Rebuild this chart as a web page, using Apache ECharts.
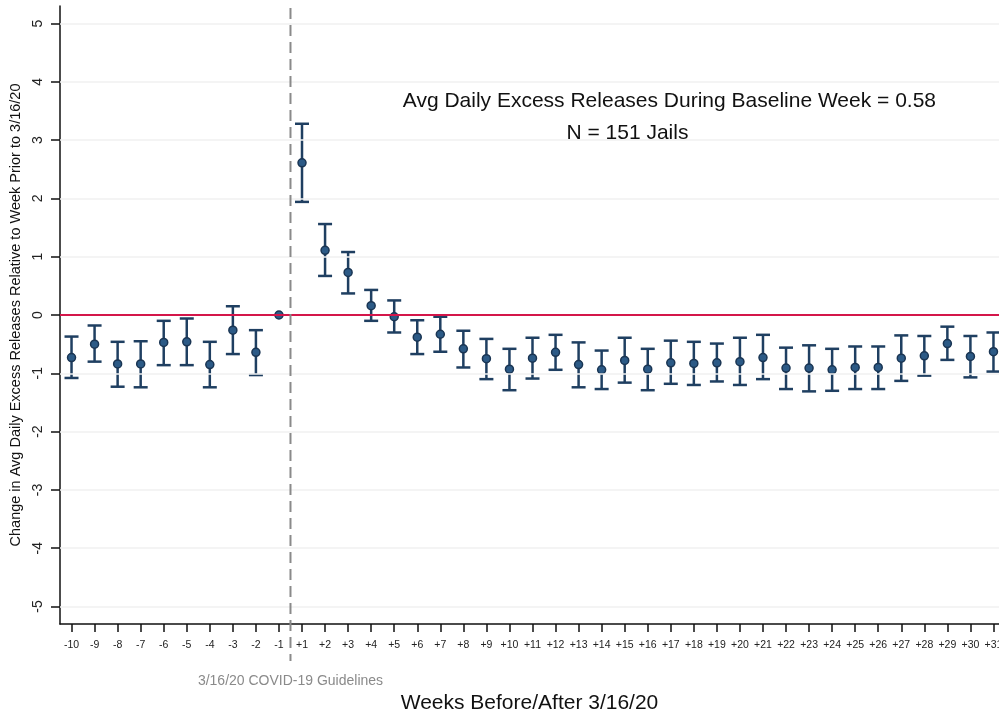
<!DOCTYPE html>
<html lang="en">
<head>
    <meta charset="UTF-8">
    <title>Weekly change in excess releases</title>
    <script src="https://cdn.jsdelivr.net/npm/echarts@6/dist/echarts.min.js"></script>
    <style>
        html, body { margin: 0; padding: 0; width: 100%; height: 100%; overflow: hidden; background: #fff; }
        #chart { width: 100%; height: 100%; }
    </style>
</head>
<body>
    <div id="chart"></div>
    <script>
        // week labels (no week 0; the guideline date falls between -1 and +1)
        const weekLabels = ['-10', '-9', '-8', '-7', '-6', '-5', '-4', '-3', '-2', '-1',
            '+1', '+2', '+3', '+4', '+5', '+6', '+7', '+8', '+9', '+10',
            '+11', '+12', '+13', '+14', '+15', '+16', '+17', '+18', '+19', '+20',
            '+21', '+22', '+23', '+24', '+25', '+26', '+27', '+28', '+29', '+30', '+31'];

        // point estimates
        const estimates = [-0.73, -0.50, -0.84, -0.84, -0.47, -0.46, -0.85, -0.26, -0.64, 0,
            2.61, 1.11, 0.73, 0.16, -0.03, -0.38, -0.33, -0.58, -0.75, -0.93,
            -0.74, -0.64, -0.85, -0.94, -0.78, -0.93, -0.82, -0.83, -0.82, -0.80,
            -0.73, -0.91, -0.91, -0.94, -0.90, -0.90, -0.74, -0.70, -0.49, -0.71, -0.63];

        // 95% CI bounds (week -1 is the reference week, no interval)
        const ciLower = [-1.08, -0.80, -1.23, -1.24, -0.86, -0.86, -1.24, -0.67, -1.03, null,
            1.94, 0.67, 0.37, -0.10, -0.30, -0.67, -0.63, -0.90, -1.10, -1.29,
            -1.09, -0.94, -1.24, -1.27, -1.16, -1.29, -1.18, -1.20, -1.14, -1.20,
            -1.10, -1.27, -1.31, -1.30, -1.27, -1.27, -1.13, -1.04, -0.77, -1.07, -0.97];
        const ciUpper = [-0.37, -0.18, -0.46, -0.45, -0.10, -0.06, -0.46, 0.15, -0.26, null,
            3.28, 1.56, 1.08, 0.43, 0.25, -0.09, -0.03, -0.27, -0.41, -0.58,
            -0.39, -0.34, -0.47, -0.61, -0.39, -0.58, -0.44, -0.46, -0.49, -0.39,
            -0.34, -0.56, -0.52, -0.58, -0.54, -0.54, -0.35, -0.36, -0.20, -0.36, -0.30];

        const yTicks = [-5, -4, -3, -2, -1, 0, 1, 2, 3, 4, 5];
        const guidelinePos = 9.5; // between week -1 and week +1

        const FONT = '"Liberation Sans", Arial, sans-serif';
        const NAVY = '#1f3f61';

        const xIdx = weekLabels.map((_, i) => i);
        const pointData = estimates.map((v, i) => [i, v]);
        const barData = [];
        ciLower.forEach((lo, i) => {
            if (lo !== null) barData.push([i, lo, ciUpper[i]]);
        });

        const chart = echarts.init(document.getElementById('chart'));

        const option = {
            animation: false,
            backgroundColor: '#fff',
            // v6 would otherwise shrink the grid to keep labels inside the canvas
            grid: { left: 60, right: 0, top: 6, bottom: 91, outerBoundsMode: 'none', containLabel: false },
            xAxis: {
                type: 'value',
                min: -0.5,
                max: 40.24,
                name: 'Weeks Before/After 3/16/20',
                nameLocation: 'middle',
                nameGap: 69,
                nameTextStyle: { fontFamily: FONT, fontSize: 21, color: '#111' },
                axisLine: { show: true, onZero: false, lineStyle: { color: '#111', width: 1.5 } },
                axisTick: { show: true, length: 8, customValues: xIdx, lineStyle: { color: '#111', width: 1.5 } },
                axisLabel: {
                    customValues: xIdx,
                    formatter: v => weekLabels[Math.round(v)] || '',
                    fontFamily: FONT, fontSize: 10.5, color: '#222', margin: 16
                },
                splitLine: { show: false }
            },
            yAxis: {
                type: 'value',
                min: -5.3,
                max: 5.3,
                name: 'Change in Avg Daily Excess Releases Relative to Week Prior to 3/16/20',
                nameLocation: 'middle',
                nameGap: 36,
                nameTextStyle: { fontFamily: FONT, fontSize: 14.5, color: '#111' },
                axisLine: { show: true, onZero: false, lineStyle: { color: '#111', width: 1.5 } },
                axisTick: { show: true, length: 9, customValues: yTicks, lineStyle: { color: '#111', width: 1.5 } },
                axisLabel: {
                    customValues: yTicks,
                    rotate: 90,
                    fontFamily: FONT, fontSize: 14, color: '#222', margin: 15
                },
                splitLine: { show: false }
            },
            series: [
                {
                    // faint horizontal grid + red zero line
                    type: 'line',
                    data: [],
                    silent: true,
                    markLine: {
                        silent: true,
                        symbol: 'none',
                        label: { show: false },
                        data: yTicks.filter(t => t !== 0).map(t => ({
                            yAxis: t, lineStyle: { color: '#f1f1f1', width: 1.5, type: 'solid' }
                        })).concat([{ yAxis: 0, lineStyle: { color: '#d4164a', width: 2, type: 'solid' } }])
                    }
                },
                {
                    type: 'custom',
                    data: barData,
                    silent: true,
                    renderItem: (params, api) => {
                        const x = api.value(0);
                        const lo = api.coord([x, api.value(1)]);
                        const hi = api.coord([x, api.value(2)]);
                        const cap = 7;
                        const style = { stroke: NAVY, lineWidth: 2.5 };
                        return {
                            type: 'group',
                            children: [
                                { type: 'line', shape: { x1: hi[0], y1: hi[1], x2: lo[0], y2: lo[1] }, style },
                                { type: 'line', shape: { x1: hi[0] - cap, y1: hi[1], x2: hi[0] + cap, y2: hi[1] }, style },
                                { type: 'line', shape: { x1: lo[0] - cap, y1: lo[1], x2: lo[0] + cap, y2: lo[1] }, style }
                            ]
                        };
                    },
                    z: 3
                },
                {
                    type: 'scatter',
                    data: pointData,
                    symbol: 'circle',
                    symbolSize: 8,
                    itemStyle: { color: '#2c5a86', borderColor: '#1a3553', borderWidth: 1.5, opacity: 1 },
                    z: 4
                }
            ]
        };

        chart.setOption(option);

        // guideline marker + annotation text, placed through the axis scales
        const gx = chart.convertToPixel({ xAxisIndex: 0 }, guidelinePos);
        const yTop = chart.convertToPixel({ yAxisIndex: 0 }, 5.3);
        const yAxisPx = chart.convertToPixel({ yAxisIndex: 0 }, -5.3);
        const noteX = chart.convertToPixel({ xAxisIndex: 0 }, 25.94);
        const noteY = chart.convertToPixel({ yAxisIndex: 0 }, 3.67);
        const noteX2 = chart.convertToPixel({ xAxisIndex: 0 }, 24.12);
        const noteY2 = chart.convertToPixel({ yAxisIndex: 0 }, 3.12);

        chart.setOption({
            graphic: [
                {
                    type: 'line',
                    shape: { x1: gx, y1: yTop + 2, x2: gx, y2: yAxisPx + 37 },
                    style: { stroke: '#8a8a8a', lineWidth: 2, lineDash: [11, 6] },
                    z: 10
                },
                {
                    type: 'text',
                    x: gx, y: yAxisPx + 57,
                    style: {
                        text: '3/16/20 COVID-19 Guidelines',
                        font: '14px ' + FONT, fill: '#8a8a8a',
                        textAlign: 'center', textVerticalAlign: 'middle'
                    }
                },
                {
                    type: 'text',
                    x: noteX, y: noteY, z: 20,
                    style: {
                        text: 'Avg Daily Excess Releases During Baseline Week = 0.58',
                        font: '21px ' + FONT, fill: '#111',
                        textAlign: 'center', textVerticalAlign: 'middle'
                    }
                },
                {
                    type: 'text',
                    x: noteX2, y: noteY2, z: 20,
                    style: {
                        text: 'N = 151 Jails',
                        font: '21px ' + FONT, fill: '#111',
                        textAlign: 'center', textVerticalAlign: 'middle'
                    }
                }
            ]
        });

        window.addEventListener('resize', () => chart.resize());
    </script>
</body>
</html>
